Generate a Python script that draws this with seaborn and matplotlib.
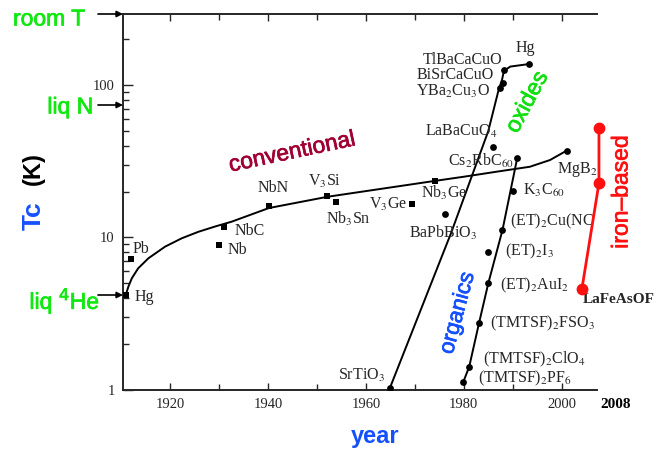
import matplotlib
matplotlib.use("Agg")
import matplotlib.pyplot as plt
import matplotlib.patheffects as pe
import seaborn as sns
import pandas as pd

sns.set_style("ticks")
plt.rcParams["font.family"] = ["Liberation Serif", "DejaVu Serif"]
plt.rcParams["mathtext.fontset"] = "stix"

W, H = 671, 450

# conventional superconductors (square markers)
conv_names = ["Hg", "Pb", "Nb", "NbC", "NbN", "V$_3$Si", "Nb$_3$Sn", "V$_3$Ge", "Nb$_3$Ge"]
conv_year = [1911.0, 1912.0, 1930.0, 1931.0, 1940.2, 1952.1, 1954.0, 1969.5, 1974.1]
conv_tc = [4.2, 7.2, 8.9, 11.7, 16.1, 18.7, 17.2, 16.5, 23.6]

# oxides (round markers)
oxide_names = ["SrTiO$_3$", "BaPbBiO$_3$", "LaBaCuO$_4$", "YBa$_2$Cu$_3$O",
               "BiSrCaCuO", "TlBaCaCuO", "Hg"]
oxide_year = [1964.9, 1976.2, 1985.9, 1987.4, 1988.1, 1988.2, 1993.4]
oxide_tc = [1.03, 14.2, 39.0, 95.1, 103.5, 125.4, 137.3]

# fullerenes and MgB2
other_names = ["Cs$_2$RbC$_{60}$", "K$_3$C$_{60}$", "MgB$_2$"]
other_year = [1990.9, 1990.0, 2001.0]
other_tc = [33.1, 20.2, 37.1]

# organics
org_names = ["(TMTSF)$_2$PF$_6$", "(TMTSF)$_2$ClO$_4$", "(TMTSF)$_2$FSO$_3$",
             "(ET)$_2$AuI$_2$", "(ET)$_2$I$_3$", "(ET)$_2$Cu(NC"]
org_year = [1979.9, 1981.1, 1983.1, 1985.0, 1985.0, 1987.9]
org_tc = [1.13, 1.42, 2.74, 5.01, 8.07, 11.2]

# iron-based
iron_year = [2004.1, 2007.6, 2007.6]
iron_tc = [4.57, 22.7, 52.6]

# traced guide curves
conv_curve_year = [1911.0, 1911.5, 1912.2, 1913.5, 1915.6, 1919.0, 1922.4, 1925.8,
                   1929.2, 1932.6, 1940.2, 1952.2, 1974.1, 1979.9, 1986.7, 1993.5,
                   1997.6, 2001.0]
conv_curve_tc = [4.24, 4.76, 5.40, 6.28, 7.31, 8.71, 9.88, 10.9, 11.8, 12.7, 15.6,
                 18.5, 23.5, 25.0, 27.0, 29.1, 32.2, 37.1]
oxide_curve_year = [1964.9, 1977.4, 1985.0, 1987.1, 1987.8, 1988.2, 1989.5, 1993.4]
oxide_curve_tc = [1.03, 10.7, 49.9, 92.7, 108, 124, 132, 137.3]
org_curve_year = [1979.9, 1981.1, 1983.1, 1985.0, 1987.9, 1990.9]
org_curve_tc = [1.13, 1.42, 2.74, 5.01, 11.2, 33.1]

# label offsets in pixels (dx, dy, ha)
conv_offsets = [(9, -2, "left"), (2, 10, "left"), (9, -5, "left"), (11, -4, "left"),
                (4, 18, "center"), (-3, 15, "center"), (12, -17, "center"),
                (-5, 0, "right"), (9, -12, "center")]
oxide_offsets = [(-28, 13, "center"), (-2, -19, "center"), (-32, 16, "center"),
                 (-10, -3, "right"), (-10, 8, "right"), (-2, 10, "right"),
                 (-4, 16, "center")]
other_offsets = [(-36, -3, "center"), (10, 0, "left"), (11, -19, "center")]
org_offsets = [(15, 4, "left"), (14, 7, "left"), (11, 0, "left"), (12, -2, "left"),
               (17, 0, "left"), (8, 9, "left")]

fig = plt.figure(figsize=(W / 100, H / 100), dpi=100)
ax = fig.add_axes([123 / W, 1 - 390 / H, (597 - 123) / W, (390 - 14) / H])
ax.set_yscale("log")

line_kw = dict(color="black", lw=1.4, sort=False, estimator=None, ax=ax)
sns.lineplot(x=conv_curve_year, y=conv_curve_tc, **line_kw)
sns.lineplot(x=oxide_curve_year, y=oxide_curve_tc, **line_kw)
sns.lineplot(x=org_curve_year, y=org_curve_tc, **line_kw)

sns.scatterplot(x=conv_year, y=conv_tc, marker="s", s=24, color="black",
                linewidth=0, ax=ax, zorder=3)
sns.scatterplot(x=oxide_year + other_year + org_year,
                y=oxide_tc + other_tc + org_tc, marker="o", s=24,
                color="black", linewidth=0, ax=ax, zorder=3)

ax.plot(iron_year, iron_tc, color="#ff1010", lw=2.0, marker="o", ms=7.5,
        clip_on=False, zorder=4)

def put_labels(names, xs, ys, offsets, clip=False):
    for name, x, y, (dx, dy, ha) in zip(names, xs, ys, offsets):
        t = ax.annotate(name, (x, y), xytext=(dx, dy), textcoords="offset pixels",
                        ha=ha, va="center", fontsize=11.5)
        t.set_clip_on(clip)

put_labels(conv_names, conv_year, conv_tc, conv_offsets)
put_labels(oxide_names, oxide_year, oxide_tc, oxide_offsets)
put_labels(other_names, other_year, other_tc, other_offsets)
put_labels(org_names, org_year, org_tc, org_offsets, clip=True)

ax.annotate("LaFeAsOF", (iron_year[0], iron_tc[0]), xytext=(1, -10),
            textcoords="offset pixels", ha="left", va="center",
            fontsize=11, fontweight="bold", annotation_clip=False)

ax.set_xlim(1910.4, 2007.2)
ax.set_ylim(1, 292)
ax.set_xticks(range(1920, 2001, 20))
ax.set_xticks(range(1930, 2001, 20), minor=True)
ax.set_yticks([1, 10, 100], ["1", "10", "100"])
ax.tick_params(which="both", direction="in", top=True, right=False,
               labelsize=10.5, width=1, pad=6)
ax.tick_params(which="major", length=5)
ax.tick_params(which="minor", length=4.5)
ax.tick_params(axis="y", which="major", length=7)
ax.spines["right"].set_visible(False)
for s in ["left", "bottom", "top"]:
    ax.spines[s].set_linewidth(1.4)

def px(x, y):
    return x / W, 1 - y / H

green = "#10e810"
blue = "#1450ff"
sans = ["Liberation Sans", "DejaVu Sans"]

def heavy(color):
    return [pe.withStroke(linewidth=0.5, foreground=color)]

fig.text(*px(13, 19), "room T", color=green, fontsize=16.5, family=sans,
         ha="left", va="center", path_effects=heavy(green))
fig.text(*px(93, 107), "liq N", color=green, fontsize=16.5, family=sans,
         ha="right", va="center", path_effects=heavy(green))
fig.text(*px(100, 301), "liq $^4$He", color=green, fontsize=16.5, family=sans,
         ha="right", va="center", math_fontfamily="dejavusans",
         path_effects=heavy(green))

for y in [14, 105, 295]:
    ax.annotate("", xy=(123 / W, 1 - y / H), xycoords="figure fraction",
                xytext=(98 / W, 1 - y / H), textcoords="figure fraction",
                arrowprops=dict(arrowstyle="-|>", color="black", lw=1.2,
                                mutation_scale=9, shrinkA=0, shrinkB=0))

fig.text(*px(34, 216), "Tc", color=blue, fontsize=19, family=sans,
         fontweight="bold", rotation=90, ha="center", va="center")
fig.text(*px(33, 169), "(K)", color="black", fontsize=17, family=sans,
         fontweight="bold", rotation=90, ha="center", va="center")
fig.text(*px(375, 443), "year", color=blue, fontsize=17, family=sans,
         fontweight="bold", ha="center", va="baseline")

fig.text(*px(292, 152), "conventional", color="#a00034", fontsize=16.5,
         family=sans, rotation=12, ha="center", va="center",
         path_effects=heavy("#a00034"))
fig.text(*px(527, 102), "oxides", color="#10e010", fontsize=16.5,
         family=sans, rotation=62, ha="center", va="center",
         path_effects=heavy("#10e010"))
fig.text(*px(458, 313), "organics", color=blue, fontsize=16,
         family=sans, rotation=75, ha="center", va="center",
         path_effects=heavy(blue))
fig.text(*px(621, 192), "iron\u2013based", color="#ff1010", fontsize=16.5,
         family=sans, rotation=90, ha="center", va="center",
         path_effects=heavy("#ff1010"))
fig.text(*px(616, 404), "2008", color="black", fontsize=11, fontweight="bold",
         ha="center", va="center")

fig.savefig("out.png", dpi=100)
